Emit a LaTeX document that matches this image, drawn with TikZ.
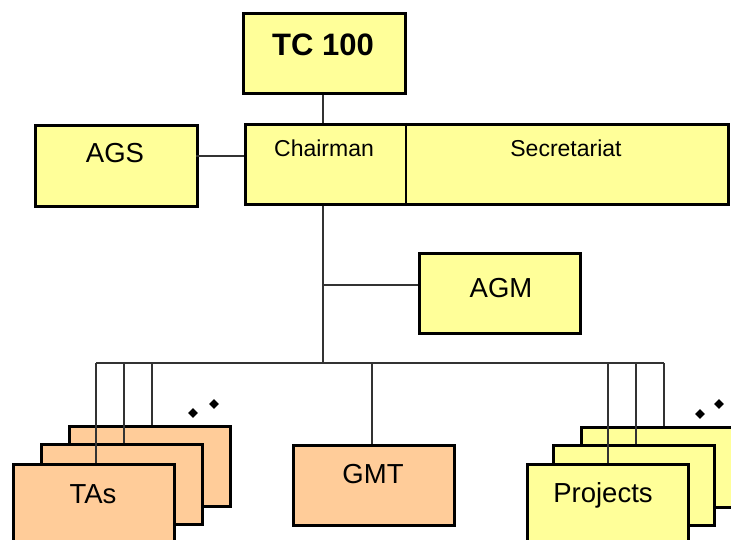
\documentclass[tikz,border=0pt]{standalone}
\usepackage{fontspec}
\setmainfont{Liberation Sans}
\usetikzlibrary{shapes.geometric}
\definecolor{boxyellow}{HTML}{FFFF99}
\definecolor{boxorange}{HTML}{FFCC99}
\definecolor{linegray}{HTML}{333333}
\begin{document}
\begin{tikzpicture}[x=1pt,y=-1pt,
  box/.style={draw=black, line width=3pt, fill=boxyellow, rectangle, inner sep=0pt, anchor=north west, minimum width=161pt, minimum height=80pt},
  obox/.style={box, fill=boxorange},
  conn/.style={draw=linegray, line width=1.5pt},
  lbl/.style={anchor=base, inner sep=0pt, font=\fontsize{27.5}{31}\selectfont},
  slbl/.style={anchor=base, inner sep=0pt, font=\fontsize{23}{27}\selectfont},
  dot/.style={diamond, fill=black, inner sep=0pt, minimum size=10pt}]
\useasboundingbox (0,0) rectangle (731,540);
\clip (0,0) rectangle (731,540);
\fill[white] (0,0) rectangle (731,540);

% top boxes
\node[box, minimum width=162pt] (tc) at (242,12) {};
\node[box, minimum width=162pt, minimum height=81pt] (ags) at (34,124) {};
\node[box, minimum width=483pt] (main) at (244,123) {};
\node[box] (agm) at (418,252) {};

% TAs stack
\node[obox] (tasB) at (68,425) {};
\node[obox] (tasM) at (40,443) {};
\node[obox] (tasF) at (12,463) {};
% GMT
\node[obox] (gmt) at (292,444) {};
% Projects stack
\node[box] (prjB) at (580,426) {};
\node[box] (prjM) at (552,444) {};
\node[box] (prjF) at (526,463) {};

% divider in main box
\coordinate (divT) at (406,123);
\coordinate (divB) at (406,203);
\draw[black, line width=1.5pt] (divT) -- (divB);

% connectors
\coordinate (trunkTop) at (323,123);
\coordinate (bus) at (323,363);
\coordinate (agsC) at (196,156);
\coordinate (agmC) at (418,285);
\draw[conn] (tc.south -| trunkTop) -- (trunkTop);
\draw[conn] (agsC) -- (agsC -| main.west);
\draw[conn] (main.south -| trunkTop) -- (bus);
\draw[conn] (agmC -| bus) -- (agmC);
\coordinate (busL) at (96,363);
\coordinate (busR) at (664,363);
\coordinate (gmtTop) at (372,363);
\draw[conn] (busL) -- (busR);
\draw[conn] (busL) -- (busL |- tasF.north);
\draw[conn] (124,363) -- (124,443);
\draw[conn] (152,363) -- (152,425);
\draw[conn] (gmtTop) -- (gmtTop |- gmt.north);
\draw[conn] (608,363) -- (608,463);
\draw[conn] (636,363) -- (636,444);
\draw[conn] (busR) -- (busR |- prjB.north);

% ellipsis dots
\node[dot] (d1) at (193,413) {};
\node[dot] (d2) at (214,404) {};
\node[dot] (d3) at (700,414) {};
\node[dot] (d4) at (719,404) {};

% labels
\node[anchor=base, inner sep=0pt, font=\bfseries\fontsize{31}{35}\selectfont] (tcl) at (323,56) {TC 100};
\node[lbl] (agsl) at (115,163) {AGS};
\node[slbl] (chl) at (324,157) {Chairman};
\node[slbl] (secl) at (566,157) {Secretariat};
\node[lbl] (agml) at (501,297) {AGM};
\node[lbl] (gmtl) at (373,483) {GMT};
\node[lbl] (tasl) at (93,503) {TAs};
\node[lbl] (prjl) at (603,502) {Projects};
\end{tikzpicture}
\end{document}
